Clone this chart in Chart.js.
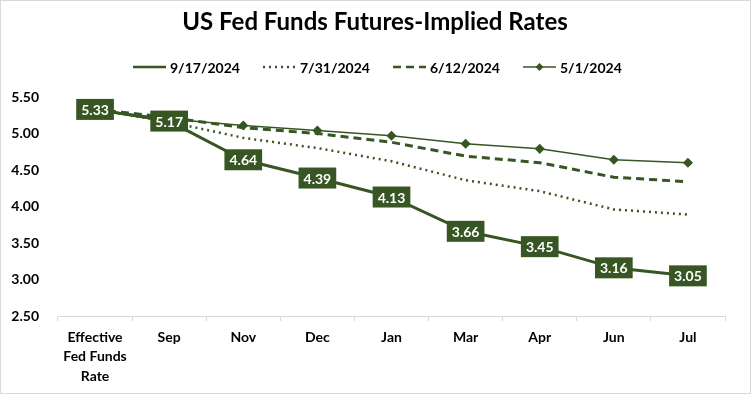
<!DOCTYPE html>
<html>
<head>
<meta charset="utf-8">
<script src="https://cdn.jsdelivr.net/npm/chart.js@4"></script>
<style>
  html, body { margin: 0; padding: 0; background: #fff; }
  #wrap { width: 749px; height: 392px; border: 1px solid #d9d9d9; position: relative; }
</style>
</head>
<body>
<div id="wrap"><canvas id="myChart" width="749" height="392"></canvas></div>
<script>
const categories = [['Effective', 'Fed Funds', 'Rate'], 'Sep', 'Nov', 'Dec', 'Jan', 'Mar', 'Apr', 'Jun', 'Jul'];
const seriesNames = ['9/17/2024', '7/31/2024', '6/12/2024', '5/1/2024'];
const sep17 = [5.33, 5.17, 4.64, 4.39, 4.13, 3.66, 3.45, 3.16, 3.05];
const jul31 = [5.33, 5.16, 4.94, 4.80, 4.62, 4.36, 4.21, 3.96, 3.89];
const jun12 = [5.33, 5.22, 5.08, 5.00, 4.88, 4.69, 4.60, 4.40, 4.34];
const may1 = [5.33, 5.20, 5.11, 5.04, 4.97, 4.86, 4.79, 4.64, 4.60];
const yTicks = [2.5, 3.0, 3.5, 4.0, 4.5, 5.0, 5.5];

const green = '#375623';
const fontFam = 'Lato, "Liberation Sans", sans-serif';

// title, legend and the boxed labels of the 9/17 line
const overlay = {
    id: 'overlay',
    afterDatasetsDraw(chart) {
        const ctx = chart.ctx;
        ctx.save();
        ctx.fillStyle = '#000';
        ctx.font = 'bold 24px ' + fontFam;
        ctx.textAlign = 'center';
        ctx.textBaseline = 'middle';
        ctx.fillText('US Fed Funds Futures-Implied Rates', 374, 21);

        // legend
        const starts = [132, 262, 392, 522];
        chart.data.datasets.forEach((ds, i) => {
            const x = starts[i];
            const y = 66;
            ctx.strokeStyle = green;
            ctx.lineWidth = ds.borderWidth > 2 ? Math.min(ds.borderWidth, 2.5) : ds.borderWidth;
            ctx.setLineDash(ds.borderDash || []);
            ctx.beginPath();
            ctx.moveTo(x, y);
            ctx.lineTo(x + 33, y);
            ctx.stroke();
            ctx.setLineDash([]);
            if (ds.pointRadius > 0) {
                ctx.fillStyle = green;
                ctx.beginPath();
                ctx.moveTo(x + 16.5, y - 4);
                ctx.lineTo(x + 20.5, y);
                ctx.lineTo(x + 16.5, y + 4);
                ctx.lineTo(x + 12.5, y);
                ctx.closePath();
                ctx.fill();
            }
            ctx.fillStyle = '#000';
            ctx.font = 'bold 14px ' + fontFam;
            ctx.textAlign = 'left';
            ctx.fillText(ds.label, x + 37, y + 1);
        });

        // data labels on first dataset
        const meta = chart.getDatasetMeta(0);
        ctx.font = 'bold 14px ' + fontFam;
        ctx.textAlign = 'center';
        meta.data.forEach((pt, i) => {
            const txt = sep17[i].toFixed(2);
            const w = ctx.measureText(txt).width + 10;
            const h = 21;
            ctx.fillStyle = green;
            ctx.fillRect(pt.x - w / 2, pt.y - h / 2, w, h);
            ctx.fillStyle = '#fff';
            ctx.fillText(txt, pt.x, pt.y + 1);
        });
        ctx.restore();
    }
};

const ctx = document.getElementById('myChart').getContext('2d');
new Chart(ctx, {
    type: 'line',
    data: {
        labels: categories,
        datasets: [
            { label: seriesNames[0], data: sep17, borderColor: green, backgroundColor: green, borderWidth: 3, pointRadius: 0, order: 0 },
            { label: seriesNames[1], data: jul31, borderColor: green, backgroundColor: green, borderWidth: 2.5, borderDash: [2, 4], pointRadius: 0, order: 3 },
            { label: seriesNames[2], data: jun12, borderColor: green, backgroundColor: green, borderWidth: 3, borderDash: [8, 5], pointRadius: 0, order: 2 },
            { label: seriesNames[3], data: may1, borderColor: green, backgroundColor: green, borderWidth: 1.5, pointRadius: 4, pointStyle: 'rectRot', order: 1 }
        ]
    },
    plugins: [overlay],
    options: {
        responsive: false,
        animation: false,
        layout: { padding: { top: 96, right: 25, left: 0, bottom: 0 } },
        plugins: {
            legend: { display: false },
            title: { display: false },
            tooltip: { enabled: false }
        },
        scales: {
            x: {
                offset: true,
                grid: { offset: true, drawOnChartArea: false, drawTicks: true, tickLength: 5, color: '#d9d9d9' },
                border: { color: '#d9d9d9', width: 1 },
                ticks: { color: '#000', font: { family: fontFam, size: 14, weight: 'bold', lineHeight: 1.38 }, padding: 7, maxRotation: 0 },
                afterFit(scale) { scale.height = 77; }
            },
            y: {
                min: 2.5,
                max: 5.5,
                afterBuildTicks(scale) { scale.ticks = yTicks.map(v => ({ value: v })); },
                grid: { display: false },
                border: { display: false },
                ticks: {
                    color: '#000',
                    font: { family: fontFam, size: 14, weight: 'bold' },
                    padding: 11,
                    callback: v => v.toFixed(2)
                },
                afterFit(scale) { scale.width = 57; }
            }
        }
    }
});
</script>
</body>
</html>
